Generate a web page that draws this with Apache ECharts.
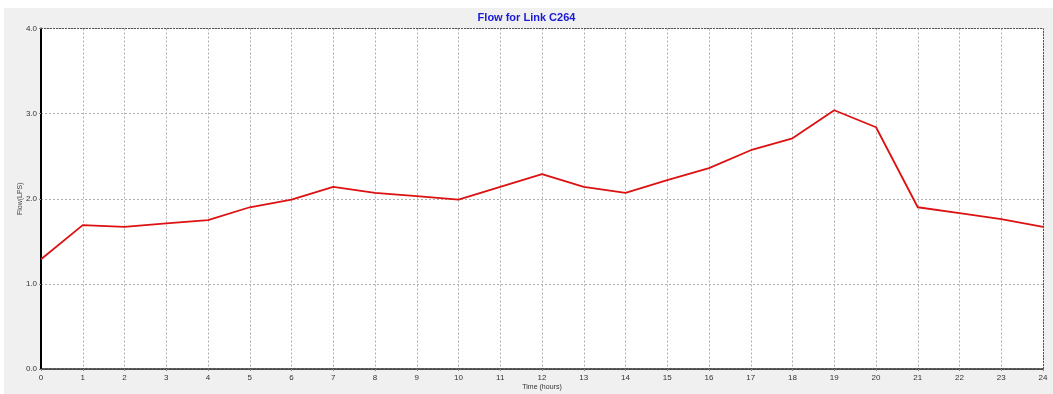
<!DOCTYPE html>
<html>
<head>
<meta charset="utf-8">
<style>
  html, body { margin: 0; padding: 0; background: #ffffff; overflow: hidden; }
  #chart { width: 1053px; height: 394px; }
</style>
<script src="https://cdn.jsdelivr.net/npm/echarts@6/dist/echarts.min.js"></script>
</head>
<body>
<div id="chart"></div>
<script>
// Hourly time steps and flow through link C264
const hours = [0, 1, 2, 3, 4, 5, 6, 7, 8, 9, 10, 11, 12, 13, 14, 15, 16, 17, 18, 19, 20, 21, 22, 23, 24];
const flowLPS = [1.29, 1.69, 1.67, 1.71, 1.75, 1.90, 1.99, 2.14, 2.07, 2.03, 1.99, 2.14, 2.29,
                 2.14, 2.07, 2.22, 2.36, 2.57, 2.71, 3.04, 2.84, 1.90, 1.83, 1.76, 1.67];
const titleText = 'Flow for Link C264';
const xName = 'Time (hours)';
const yName = 'Flow(LPS)';

const chart = echarts.init(document.getElementById('chart'), null, { renderer: 'canvas' });

const tickFont = { fontFamily: 'Liberation Sans, Arial, sans-serif', fontSize: 8, color: '#333333' };

chart.setOption({
  animation: false,
  backgroundColor: '#ffffff',
  graphic: [{
    type: 'rect',
    z: -10,
    silent: true,
    shape: { x: 4, y: 8, width: 1049, height: 386 },
    style: { fill: '#f0f0f0' }
  }],
  title: {
    text: titleText,
    left: 'center',
    top: 7,
    textStyle: {
      fontFamily: 'Liberation Sans, Arial, sans-serif',
      fontSize: 11,
      fontWeight: 'bold',
      color: '#1a1ad6'
    }
  },
  grid: {
    left: 41,
    width: 1002,
    top: 28.5,
    height: 340.5,
    outerBoundsMode: 'none',
    containLabel: false,
    show: true,
    backgroundColor: '#ffffff',
    borderWidth: 0
  },
  xAxis: {
    type: 'value',
    min: 0,
    max: 24,
    interval: 1,
    name: xName,
    nameLocation: 'middle',
    nameGap: 15,
    nameMoveOverlap: false,
    nameTextStyle: { fontFamily: 'Liberation Sans, Arial, sans-serif', fontSize: 7, color: '#333333' },
    axisLine: { show: true, onZero: false, lineStyle: { color: '#222222', width: 1.5, type: [3, 1] } },
    axisTick: { show: true, length: 2, lineStyle: { color: '#888888' } },
    axisLabel: Object.assign({ margin: 5 }, tickFont),
    splitLine: { show: true, lineStyle: { color: '#b0b0b0', type: [2, 2], width: 1 } }
  },
  yAxis: {
    type: 'value',
    min: 0,
    max: 4,
    interval: 1,
    name: yName,
    nameLocation: 'middle',
    nameGap: 17,
    nameMoveOverlap: false,
    nameTextStyle: { fontFamily: 'Liberation Sans, Arial, sans-serif', fontSize: 7, color: '#444444' },
    axisLine: { show: true, lineStyle: { color: '#000000', width: 2 } },
    axisTick: { show: true, length: 2, lineStyle: { color: '#888888' } },
    axisLabel: Object.assign({ margin: 4, formatter: v => v.toFixed(1) }, tickFont),
    splitLine: { show: true, lineStyle: { color: '#b0b0b0', type: [2, 2], width: 1 } }
  },
  series: [{
    type: 'line',
    data: hours.map((h, i) => [h, flowLPS[i]]),
    showSymbol: false,
    symbol: 'none',
    lineStyle: { color: '#dd1111', width: 1.8 },
    markLine: {
      silent: true,
      symbol: 'none',
      label: { show: false },
      lineStyle: { color: '#555555', type: [2, 1], width: 1 },
      data: [
        [{ coord: [0, 4] }, { coord: [24, 4] }],
        [{ coord: [24, 0] }, { coord: [24, 4] }]
      ]
    }
  }]
});
</script>
</body>
</html>
